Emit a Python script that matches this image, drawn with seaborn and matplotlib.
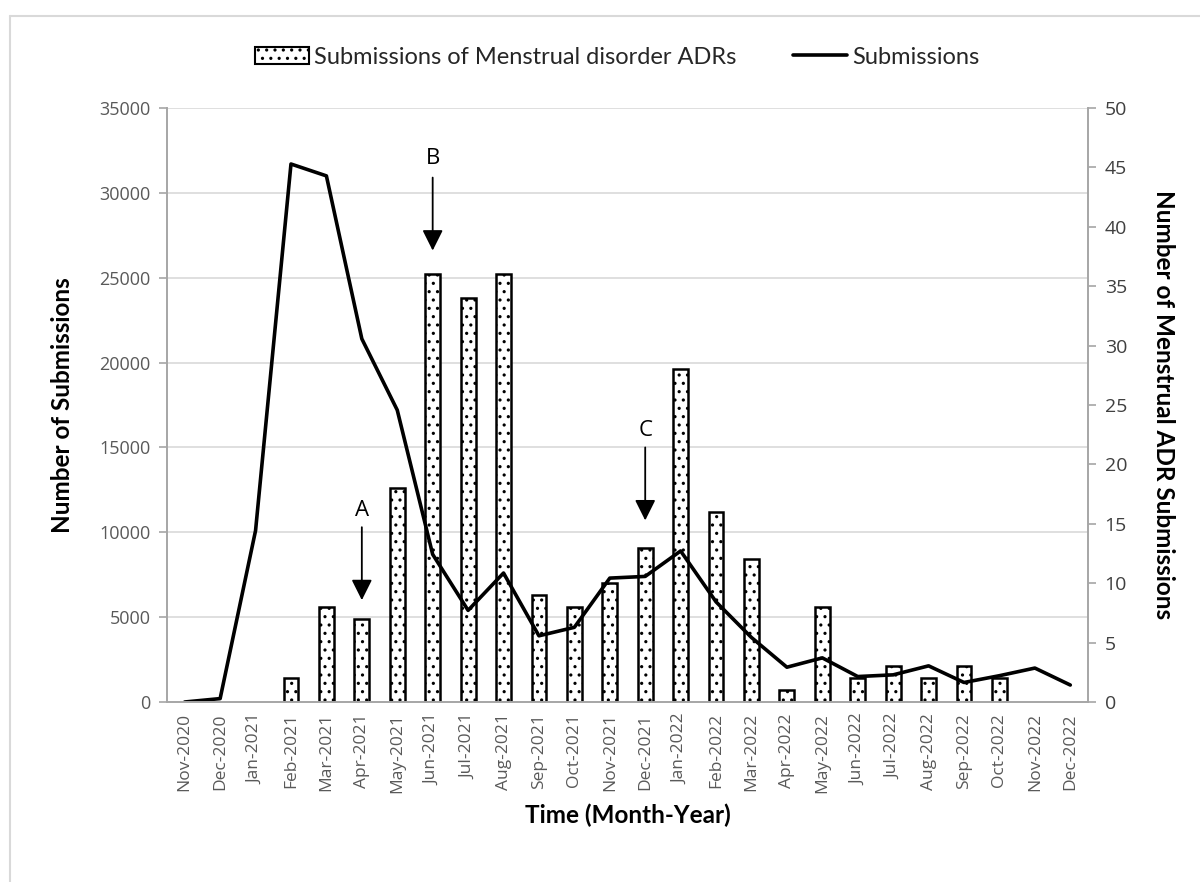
import numpy as np
import pandas as pd
import matplotlib
matplotlib.use("Agg")
import matplotlib.pyplot as plt
import matplotlib.transforms as mtrans
from matplotlib.patches import Patch
from matplotlib.lines import Line2D
import seaborn as sns

# ---------------- data ----------------
months = ["Nov-2020", "Dec-2020", "Jan-2021", "Feb-2021", "Mar-2021", "Apr-2021",
          "May-2021", "Jun-2021", "Jul-2021", "Aug-2021", "Sep-2021", "Oct-2021",
          "Nov-2021", "Dec-2021", "Jan-2022", "Feb-2022", "Mar-2022", "Apr-2022",
          "May-2022", "Jun-2022", "Jul-2022", "Aug-2022", "Sep-2022", "Oct-2022",
          "Nov-2022", "Dec-2022"]
menstrual_adr = [0, 0, 0, 2, 8, 7, 18, 36, 34, 36, 9, 8, 10, 13, 28, 16, 12, 1,
                 8, 2, 3, 2, 3, 2, 0, 0]
submissions = [0, 200, 10100, 31700, 31000, 21400, 17200, 8700, 5400, 7600, 3900,
               4400, 7300, 7400, 8900, 5900, 3800, 2050, 2600, 1500, 1600, 2130,
               1150, 1550, 2000, 1000]
left_ticks = [0, 5000, 10000, 15000, 20000, 25000, 30000, 35000]
right_ticks = [0, 5, 10, 15, 20, 25, 30, 35, 40, 45, 50]
bar_label = "Submissions of Menstrual disorder ADRs"
line_label = "Submissions"

df = pd.DataFrame({"month": months, "adr": menstrual_adr, "subs": submissions})
df["pos"] = np.arange(len(df))

# ---------------- style ----------------
sns.set_theme(style="white")
plt.rcParams["font.family"] = ["Open Sans", "DejaVu Sans"]
plt.rcParams["hatch.linewidth"] = 1.1
LABEL_FONT = ["Lato", "DejaVu Sans"]
GREY_TXT = "#595959"
AXIS_C = "#A6A6A6"
GRID_C = "#D9D9D9"

W, H = 1200, 882
fig = plt.figure(figsize=(W / 100, H / 100), dpi=100)
x0, x1, ytop, ybot = 167, 1088, 108, 702
ax = fig.add_axes([x0 / W, 1 - ybot / H, (x1 - x0) / W, (ybot - ytop) / H])
ax2 = ax.twinx()

# bars on the right (secondary) axis
sns.barplot(data=df, x="month", y="adr", ax=ax2, color="white", saturation=1,
            edgecolor="black", linewidth=1.8, width=0.42, hatch="..", zorder=2)
for p in ax2.patches:
    if p.get_height() == 0:
        p.set_linewidth(0)
        p.set_hatch(None)

# line on the left (primary) axis, drawn above bars
sns.lineplot(data=df, x="pos", y="subs", ax=ax, color="black", linewidth=2.6)
ax.set_zorder(ax2.get_zorder() + 1)
ax.patch.set_visible(False)

n = len(months)
ax.set_xlim(-0.5, n - 0.5)
ax.set_ylim(left_ticks[0], left_ticks[-1])
ax2.set_ylim(right_ticks[0], right_ticks[-1])

# gridlines at the left-axis ticks, behind the bars
blend = mtrans.blended_transform_factory(ax2.transAxes, ax.transData)
ax2.hlines(left_ticks[1:], 0, 1, transform=blend, color=GRID_C, lw=1.2, zorder=0.5)

# ticks
ax.set_yticks(left_ticks)
ax.set_yticklabels([str(v) for v in left_ticks])
ax2.set_yticks(right_ticks)
ax2.set_yticklabels([str(v) for v in right_ticks])
ax.set_xticks(np.arange(n))
ax.set_xticklabels(months, rotation=90)
ax.set_xticks(np.arange(-0.5, n, 1.0), minor=True)
ax.tick_params(axis="x", which="major", length=0, pad=8, labelsize=12.5, labelcolor=GREY_TXT)
ax.tick_params(axis="x", which="minor", length=6, width=1.2, color=AXIS_C, direction="out")
ax.tick_params(axis="y", length=6, width=1.2, color=AXIS_C, direction="out",
               labelsize=13, labelcolor=GREY_TXT, pad=6)
ax2.tick_params(axis="y", length=6, width=1.2, color=AXIS_C, direction="out",
                labelsize=14, labelcolor="#404040", pad=6)

for s in ["top", "right"]:
    ax.spines[s].set_visible(False)
for s in ["top", "left", "bottom"]:
    ax2.spines[s].set_visible(False)
ax.spines["left"].set_color(AXIS_C)
ax.spines["bottom"].set_color(AXIS_C)
ax2.spines["right"].set_color(AXIS_C)
for sp in [ax.spines["left"], ax.spines["bottom"], ax2.spines["right"]]:
    sp.set_linewidth(1.4)

# axis labels
ax.set_ylabel("Number of Submissions", fontsize=17.5, fontweight="bold",
              family=LABEL_FONT, color="black")
ax.yaxis.set_label_coords((63 - x0) / (x1 - x0), 0.5)
ax.yaxis.label.set_va("center")
ax2.set_ylabel("Number of Menstrual ADR Submissions", fontsize=17.5, fontweight="bold",
               family=LABEL_FONT, color="black", rotation=270)
ax2.yaxis.set_label_coords((1163 - x0) / (x1 - x0), 0.5)
ax2.yaxis.label.set_va("center")
ax.set_xlabel("Time (Month-Year)", fontsize=17.5, fontweight="bold",
              family=LABEL_FONT, color="black")
ax.xaxis.set_label_coords(0.5, (ybot - 815) / (ybot - ytop))
ax.xaxis.label.set_va("center")

# annotations A, B, C
for letter, month, y_txt, y_from, y_to in [("A", "Apr-2021", 11300, 10300, 6000),
                                           ("B", "Jun-2021", 32000, 30900, 26600),
                                           ("C", "Dec-2021", 16000, 15000, 10700)]:
    xp = months.index(month)
    ax.annotate("", xy=(xp, y_to), xytext=(xp, y_from),
                arrowprops=dict(arrowstyle="-|>,head_length=0.9,head_width=0.45",
                                color="black", lw=1.3, shrinkA=0, shrinkB=0,
                                mutation_scale=14))
    ax.text(xp, y_txt, letter, ha="center", va="center", fontsize=16, color="black")

# legend
handles = [Patch(facecolor="white", edgecolor="black", hatch="..", linewidth=1.5),
           Line2D([], [], color="black", linewidth=2.6)]
fig.legend(handles, [bar_label, line_label], loc="center",
           bbox_to_anchor=(617 / W, 1 - 57 / H), ncol=2, frameon=False,
           prop={"family": LABEL_FONT, "size": 17}, handlelength=2.3,
           handletextpad=0.2, columnspacing=2.4)

# chart border (light grey)
fig.add_artist(Line2D([10 / W, 10 / W], [0, 1 - 16 / H], transform=fig.transFigure,
                      color=GRID_C, lw=1.5))
fig.add_artist(Line2D([10 / W, 1], [1 - 16 / H, 1 - 16 / H], transform=fig.transFigure,
                      color=GRID_C, lw=1.5))

fig.savefig("out.png", dpi=100, facecolor="white")
